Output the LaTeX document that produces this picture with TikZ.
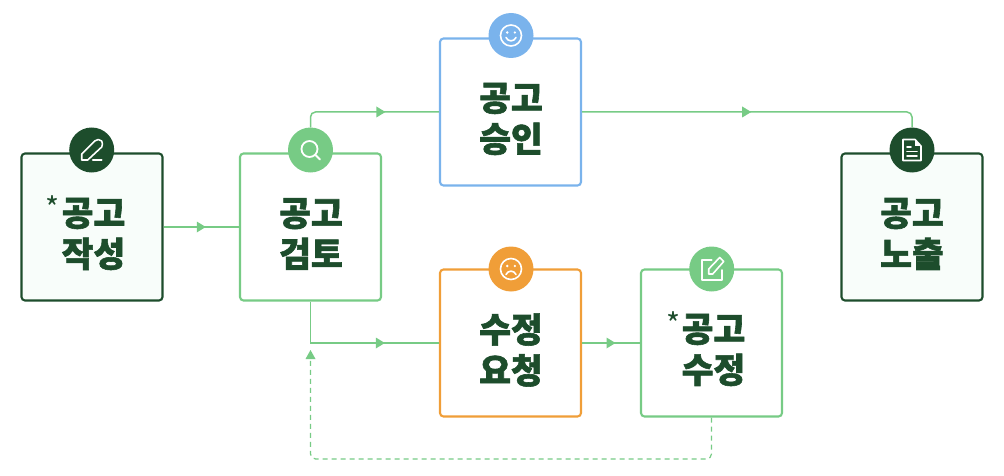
\documentclass[tikz,border=0pt]{standalone}
\usepackage{fontspec}
\setmainfont{Noto Sans CJK KR}[BoldFont={Noto Sans CJK KR Black},BoldFeatures={FakeBold=1.7}]
\usetikzlibrary{arrows.meta,decorations.markings,calc}
\definecolor{dk}{HTML}{1D4D2C}
\definecolor{gn}{HTML}{77CB85}
\definecolor{bl}{HTML}{7AB3EC}
\definecolor{og}{HTML}{F09E38}
\definecolor{pale}{HTML}{F8FDFA}
\tikzset{
  x=1pt,y=-1pt,
  card/.style={draw=#1,line width=2.1pt,rounded corners=3.5pt,minimum width=141pt,minimum height=147pt,inner sep=0pt,fill=white},
  badge/.style={circle,fill=#1,minimum size=45pt,inner sep=0pt},
  title/.style={text=dk,font=\fontsize{34.5}{41}\bfseries,align=center,inner sep=0pt},
  star/.style={text=dk,font=\fontsize{30}{30}\selectfont,inner sep=0pt},
  link/.style={draw=gn,line width=1.5pt,rounded corners=5pt},
  tipat/.style={postaction={decorate,decoration={markings,mark=at position #1 with {\fill[gn,sharp corners] (-4.5pt,-5.5pt) -- (4.5pt,0pt) -- (-4.5pt,5.5pt) -- cycle;}}}},
  icon/.style={draw=white,line width=1.6pt,line cap=round,line join=round},
}
\begin{document}
\begin{tikzpicture}
\useasboundingbox (0,0) rectangle (1004,476);
\coordinate (rc) at (912,112);
\coordinate (fd) at (711.5,459);
\coordinate (fe) at (310.5,459);
\coordinate (ft) at (310.5,359);
% cards
\node[card=dk,fill=pale] (A) at (92,227) {};
\node[card=gn] (B) at (310.5,227) {};
\node[card=bl] (C) at (510.5,112) {};
\node[card=og] (D) at (510.5,343) {};
\node[card=gn] (E) at (711.5,343) {};
\node[card=dk,fill=pale] (F) at (912,227) {};
% badges
\node[badge=dk] (a) at (91.7,150) {};
\node[badge=gn] (b) at (310.5,150) {};
\node[badge=bl] (c) at (511,35.5) {};
\node[badge=og] (d) at (511,269) {};
\node[badge=gn] (e) at (711.7,269) {};
\node[badge=dk] (f) at (912,150) {};
% titles
\node[title] (ta) at (93.5,234) {공고\\작성};
\node[title] (tb) at (311,234) {공고\\검토};
\node[title] (tc) at (511,119) {공고\\승인};
\node[title] (td) at (511,350) {수정\\요청};
\node[title] (te) at (713.5,350) {공고\\수정};
\node[title] (tf) at (912,234) {공고\\노출};
\node[star] (sa) at (53,208) {*};
\node[star] (se) at (673,324) {*};
% connectors
\draw[link,tipat=.5] (A.east) -- (B.west);
\draw[link,tipat=.59] (b.north) |- (C.west);
\draw[link,tipat=.48] (C.east) -- (rc) -- (f.north);
\draw[link,tipat=.655,rounded corners=0pt] (B.south) |- (D.west);
\draw[link,tipat=.5] (D.east) -- (E.west);
\draw[draw=gn,line width=1.2pt,dash pattern=on 5pt off 4pt,rounded corners=5pt] (E.south) -- (fd) -- (fe) -- (ft);
\fill[gn] (310.5,350) -- (315.5,359) -- (305.5,359) -- cycle;
% pencil icon
\begin{scope}[shift={(a.center)}]
\draw[icon] (-10,10) -- (-10,4) -- (3,-9) .. controls (5,-11) and (8,-11) .. (10,-9) .. controls (11,-7) and (11,-5) .. (10,-3) -- (-4,10) -- cycle;
\draw[icon] (1,10) -- (10,10);
\end{scope}
% magnifier icon
\begin{scope}[shift={(b.center)}]
\draw[icon,line width=1.8pt] (-1,-1) circle (8);
\draw[icon,line width=1.8pt] (5,5) -- (9.5,9.5);
\end{scope}
% smile icon
\begin{scope}[shift={(c.center)}]
\draw[icon] (0,0) circle (10.5);
\fill[white] (-3.8,-3) circle (1.3) (3.8,-3) circle (1.3);
\draw[icon] (-5,2) .. controls (-3,6.5) and (3,6.5) .. (5,2);
\end{scope}
% frown icon
\begin{scope}[shift={(d.center)}]
\draw[icon] (0,0) circle (10.5);
\fill[white] (-3.8,-3) circle (1.3) (3.8,-3) circle (1.3);
\draw[icon] (-5,5.5) .. controls (-3,1) and (3,1) .. (5,5.5);
\end{scope}
% edit icon
\begin{scope}[shift={(e.center)}]
\draw[icon] (0,-9) -- (-10,-9) -- (-10,11) -- (10,11) -- (10,1);
\draw[icon] (-3,5) -- (-3,0) -- (8,-11.5) -- (12,-7.5) -- (1,5) -- cycle;
\end{scope}
% document icon
\begin{scope}[shift={(f.center)}]
\draw[icon] (-9,-10.5) -- (3,-10.5) -- (9,-4) -- (9,10.5) -- (-9,10.5) -- cycle;
\fill[white] (3,-10.5) -- (9,-4) -- (3,-4) -- cycle;
\draw[icon] (-5,-3) -- (-1,-3) (-5,1.5) -- (5,1.5) (-5,6) -- (5,6);
\end{scope}
\end{tikzpicture}
\end{document}
